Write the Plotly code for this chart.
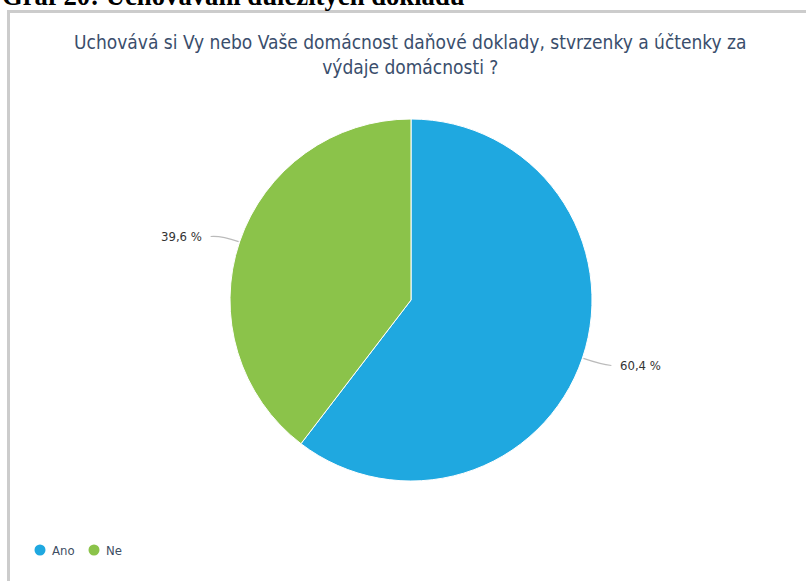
import math
import plotly.graph_objects as go

# Survey answers
labels = ["Ano", "Ne"]
values = [60.4, 39.6]
value_text = ["60,4 %", "39,6 %"]
colors = ["#1fa8e0", "#8bc34a"]

heading = "Graf 20: Uchovávání důležitých dokladů"
question = ("Uchovává si Vy nebo Vaše domácnost daňové doklady, stvrzenky a účtenky za"
            "<br>výdaje domácnosti ?")

W, H = 806, 581
CX, CY, R = 411, 300, 181  # pie centre and radius in pixels


def px(x):
    return x / W


def py(y):
    return 1 - y / H


fig = go.Figure()
fig.add_trace(go.Pie(
    labels=labels,
    values=values,
    sort=False,
    direction="clockwise",
    rotation=0,
    marker=dict(colors=colors, line=dict(color="white", width=1)),
    textinfo="none",
    hoverinfo="label+percent",
    showlegend=False,
    domain=dict(x=[px(CX - R), px(CX + R)], y=[py(CY + R), py(CY - R)]),
))

shapes = []
annotations = []

# Outside labels with leader lines, placed at the middle angle of each slice
total = sum(values)
cum = 0.0
for lab, val, txt in zip(labels, values, value_text):
    mid = (cum + val / 2) / total * 2 * math.pi
    cum += val
    dx, dy = math.sin(mid), -math.cos(mid)
    side = 1 if dx >= 0 else -1
    x0, y0 = CX + dx * (R + 1), CY + dy * (R + 1)
    x1, y1 = CX + dx * (R + 20), CY + dy * (R + 20)
    x2, y2 = x1 + side * 10, y1 + 1
    path = (f"M {px(x0)},{py(y0)} Q {px(x1)},{py(y1)} {px(x2)},{py(y2)}")
    shapes.append(dict(type="path", xref="paper", yref="paper", path=path,
                       line=dict(color="#bbbbbb", width=1.2)))
    annotations.append(dict(
        x=px(x2 + side * 7), y=py(y2), xref="paper", yref="paper",
        text=txt, showarrow=False,
        xanchor="left" if side > 0 else "right", yanchor="middle",
        font=dict(family="DejaVu Sans Condensed, DejaVu Sans", size=13, color="#333333"),
    ))

# Legend with round markers
lx = 40
for lab, col in zip(labels, colors):
    shapes.append(dict(type="circle", xref="paper", yref="paper",
                       x0=px(lx - 5.5), x1=px(lx + 5.5), y0=py(555.5), y1=py(544.5),
                       fillcolor=col, line=dict(width=0)))
    annotations.append(dict(
        x=px(lx + 10), y=py(550), xref="paper", yref="paper",
        text=lab, showarrow=False, xanchor="left", yanchor="middle",
        font=dict(family="DejaVu Sans Condensed, DejaVu Sans", size=13, color="#3e4e63"),
    ))
    lx += 54

# Chart frame (top and left edges)
shapes.append(dict(type="line", xref="paper", yref="paper",
                   x0=px(7), x1=1, y0=py(11.5), y1=py(11.5),
                   line=dict(color="#cccccc", width=3)))
shapes.append(dict(type="line", xref="paper", yref="paper",
                   x0=px(8.5), x1=px(8.5), y0=py(10), y1=0,
                   line=dict(color="#cccccc", width=3)))

# Document heading above the frame
annotations.append(dict(
    x=0, y=py(-4), xref="paper", yref="paper",
    text=f"<b>{heading}</b>", showarrow=False, xanchor="left", yanchor="middle",
    font=dict(family="Liberation Serif", size=26.7, color="#000000"),
))

# Chart title
annotations.append(dict(
    x=px(410), y=py(29), xref="paper", yref="paper",
    text=question, showarrow=False, xanchor="center", yanchor="top",
    font=dict(family="DejaVu Sans Condensed, DejaVu Sans", size=19, color="#3a4e6c"),
))

fig.update_layout(
    width=W, height=H,
    margin=dict(l=0, r=0, t=0, b=0),
    paper_bgcolor="white",
    plot_bgcolor="white",
    shapes=shapes,
    annotations=annotations,
)

fig.write_html("out.html")
